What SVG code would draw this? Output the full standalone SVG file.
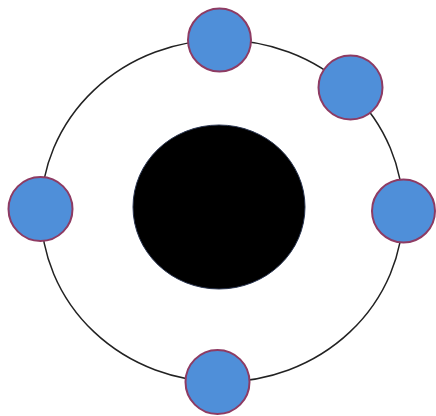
<svg xmlns="http://www.w3.org/2000/svg" width="436" height="416" viewBox="0 0 436 416">
<style>
.node{fill:#4f8fd9;stroke:#8e3b63;stroke-width:2}
.ring{fill:none;stroke:#222;stroke-width:1.5}
</style>
<rect width="436" height="416" fill="#fff"/>
<g id="connectors">
<ellipse class="ring" cx="222" cy="211" rx="181" ry="171"/>
</g>
<g id="center"><ellipse cx="219" cy="207" rx="86" ry="82" fill="#000" stroke="#2a3550" stroke-width="1"/></g>
<g id="n-top"><circle class="node" cx="219.5" cy="40" r="31.5"/></g>
<g id="n-upright"><circle class="node" cx="350.5" cy="87.5" r="32"/></g>
<g id="n-left"><circle class="node" cx="40.5" cy="209" r="32"/></g>
<g id="n-right"><circle class="node" cx="403.5" cy="211" r="31.5"/></g>
<g id="n-bottom"><circle class="node" cx="217.5" cy="382" r="32"/></g>
</svg>
